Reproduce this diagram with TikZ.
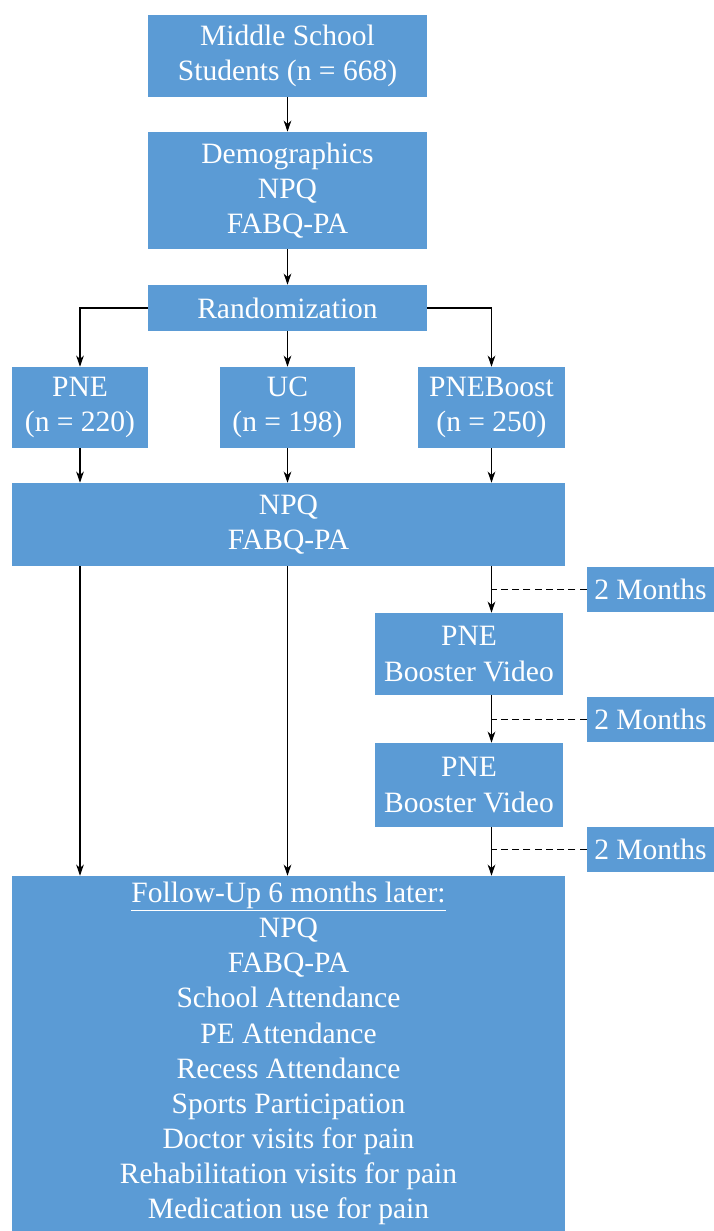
\documentclass[tikz,border=0pt]{standalone}
\usepackage{fontspec}
\setmainfont{Liberation Serif}
\newfontfamily\timesfont{Liberation Serif}
\usetikzlibrary{positioning,arrows.meta,calc}
\definecolor{boxblue}{RGB}{91,155,213}

\begin{document}
\begin{tikzpicture}[x=0.025cm,y=-0.025cm,
  blk/.style={fill=boxblue,text=white,align=center,inner sep=0pt,
    font=\timesfont\fontsize{21}{25}\selectfont},
  sz/.style 2 args={minimum width=#1*0.025cm,minimum height=#2*0.025cm},
  arr/.style={line width=0.8pt,-{Stealth[length=8pt,width=5.5pt]}},
  dsh/.style={line width=0.8pt,dash pattern=on 5pt off 3pt}]

   \useasboundingbox (0,0) rectangle (714,1231);

   % blokken
   \node[blk,sz={279}{82}]  (stud)  at (287.5,56)    {Middle School\\Students (n = 668)};
   \node[blk,sz={279}{117}] (demo)  at (287.5,190.5) {Demographics\\NPQ\\FABQ-PA};
   \node[blk,sz={279}{46}]  (rand)  at (287.5,308)   {Randomization};
   \node[blk,sz={136}{81}]  (pne)   at (80,407.5)    {PNE\\(n = 220)};
   \node[blk,sz={135}{81}]  (uc)    at (287.5,407.5) {UC\\(n = 198)};
   \node[blk,sz={147}{81}]  (boost) at (491.5,407.5) {PNEBoost\\(n = 250)};
   \node[blk,sz={553}{83}]  (base)  at (288.5,524.5) {NPQ\\FABQ-PA};
   \node[blk,sz={188}{82}]  (vid1)  at (469,654)     {PNE\\Booster Video};
   \node[blk,sz={188}{84}]  (vid2)  at (469,785)     {PNE\\Booster Video};
   \node[blk,sz={553}{355}] (follow) at (288.5,1053.5)
     {\underline{Follow-Up 6 months later:}\\NPQ\\FABQ-PA\\School Attendance\\
      PE Attendance\\Recess Attendance\\Sports Participation\\
      Doctor visits for pain\\Rehabilitation visits for pain\\Medication use for pain};

   % tussenpozen
   \foreach \n/\y in {1/589.5,2/719.5,3/849.5}
     \node[blk,sz={127}{45}] (mon\n) at (650.5,\y) {2 Months};

   % pijlen
   \draw[arr] (stud) -- (demo);
   \draw[arr] (demo) -- (rand);
   \draw[arr] (rand.west) -| (pne);
   \draw[arr] (rand) -- (uc);
   \draw[arr] (rand.east) -| (boost);
   \foreach \g in {pne,uc,boost}
     \draw[arr] (\g) -- (\g |- base.north);
   \draw[arr] (pne |- base.south) -- (pne |- follow.north);
   \draw[arr] (uc |- base.south) -- (uc |- follow.north);
   \draw[arr] (boost |- base.south) -- (boost |- vid1.north);
   \draw[arr] (boost |- vid1.south) -- (boost |- vid2.north);
   \draw[arr] (boost |- vid2.south) -- (boost |- follow.north);

   % stippellijnen
   \foreach \n in {1,2,3}
     \draw[dsh] (mon\n.west) -- (boost |- mon\n.west);

\end{tikzpicture}
\end{document}
